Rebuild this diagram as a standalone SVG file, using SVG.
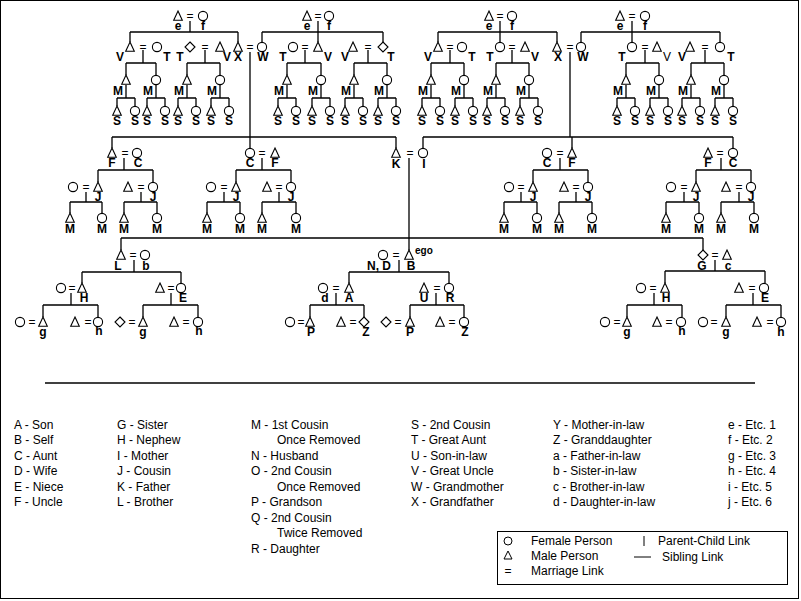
<svg xmlns="http://www.w3.org/2000/svg" xmlns:xlink="http://www.w3.org/1999/xlink" width="801" height="601" viewBox="0 0 801 601">
<style>
.l{stroke:#000;stroke-width:1.3;fill:none}
.s{fill:#fff;stroke:#000;stroke-width:1.1}
text{font-family:"Liberation Sans",Arial,sans-serif;fill:#000}
.b{font-weight:bold;font-size:12px;text-anchor:middle}
.q{font-size:12px;text-anchor:middle}
.g{font-size:12px}
</style>
<defs>
<path id="t" class="s" d="M0,-5L4.3,4.2H-4.3Z"/>
<circle id="c" class="s" r="4.6"/>
<path id="d" class="s" d="M0,-5L5,0L0,5L-5,0Z"/>
</defs>
<rect x="0.5" y="0.5" width="798" height="598" fill="#fff" stroke="#000"/>

<g id="connectors" class="l">
<path d="M190,21V32M130,32H238M130,32V42M238,32V42"/>
<path d="M318,21V42M262,32H383M262,32V42M383,32V42"/>
<path d="M500,21V42M438,32H557M438,32V42M557,32V42"/>
<path d="M632,21V42M581,32H720M581,32V42M720,32V42"/>
<path d="M143,50V63M126,63H156M126,63V75M156,63V75"/>
<path d="M205,50V63M187,63H220M187,63V75M220,63V75"/>
<path d="M305,50V63M287,63H321M287,63V75M321,63V75"/>
<path d="M368,50V63M354,63H387M354,63V75M387,63V75"/>
<path d="M450,50V63M431,63H464M431,63V75M464,63V75"/>
<path d="M512,50V63M496,63H529M496,63V75M529,63V75"/>
<path d="M645,50V63M626,63H659M626,63V75M659,63V75"/>
<path d="M705,50V63M691,63H724M691,63V75M724,63V75"/>
<path d="M126,85V98M117,98H135M117,98V106M135,98V106"/>
<path d="M156,85V98M147,98H165M147,98V106M165,98V106"/>
<path d="M187,85V98M178,98H196M178,98V106M196,98V106"/>
<path d="M220,85V98M211,98H229M211,98V106M229,98V106"/>
<path d="M287,85V98M278,98H296M278,98V106M296,98V106"/>
<path d="M321,85V98M312,98H330M312,98V106M330,98V106"/>
<path d="M354,85V98M345,98H363M345,98V106M363,98V106"/>
<path d="M387,85V98M378,98H396M378,98V106M396,98V106"/>
<path d="M431,85V98M422,98H440M422,98V106M440,98V106"/>
<path d="M464,85V98M455,98H473M455,98V106M473,98V106"/>
<path d="M496,85V98M487,98H505M487,98V106M505,98V106"/>
<path d="M529,85V98M520,98H538M520,98V106M538,98V106"/>
<path d="M626,85V98M617,98H635M617,98V106M635,98V106"/>
<path d="M659,85V98M650,98H668M650,98V106M668,98V106"/>
<path d="M691,85V98M682,98H700M682,98V106M700,98V106"/>
<path d="M724,85V98M715,98H733M715,98V106M733,98V106"/>
<path d="M250,52V137M570,52V137M112,137H396M112,137V148M250,137V148M396,137V148"/>
<path d="M423,137H733M423,137V148M572,137V148M733,137V148"/>
<path d="M124,158V170M98,170H153M98,170V182M153,170V182"/>
<path d="M86,192V202M70,202H102M70,202V213M102,202V213"/>
<path d="M141,192V202M124,202H157M124,202V213M157,202V213"/>
<path d="M262,158V170M236,170H291M236,170V182M291,170V182"/>
<path d="M224,192V202M207,202H240M207,202V213M240,202V213"/>
<path d="M279,192V202M262,202H296M262,202V213M296,202V213"/>
<path d="M560,158V170M533,170H588M533,170V182M588,170V182"/>
<path d="M521,192V202M504,202H537M504,202V213M537,202V213"/>
<path d="M576,192V202M559,202H592M559,202V213M592,202V213"/>
<path d="M721,158V170M696,170H751M696,170V182M751,170V182"/>
<path d="M684,192V202M666,202H699M666,202V213M699,202V213"/>
<path d="M739,192V202M721,202H754M721,202V213M754,202V213"/>
<path d="M409,158V250M121,238H703M121,238V250M703,238V250"/>
<path d="M134,260V272M82,272H181M82,272V283M181,272V283"/>
<path d="M71,293V305M43,305H98M43,305V317M98,305V317"/>
<path d="M171,293V305M143,305H198M143,305V317M198,305V317"/>
<path d="M399,260V272M349,272H449M349,272V283M449,272V283"/>
<path d="M336,293V305M310,305H364M310,305V317M364,305V317"/>
<path d="M436,293V305M410,305H464M410,305V317M464,305V317"/>
<path d="M715,260V271M665,271H765M665,271V283M765,271V283"/>
<path d="M654,293V305M627,305H682M627,305V317M682,305V317"/>
<path d="M753,293V305M726,305H781M726,305V317M781,305V317"/>
<path d="M45,383H755"/>
</g>

<g id="top">
<use href="#t" x="178" y="16"/><text class="q" x="190" y="20">=</text><use href="#c" x="203" y="16"/><text class="b" x="178" y="30">e</text><text class="b" x="203" y="30">f</text>
<use href="#t" x="307" y="16"/><text class="q" x="318" y="20">=</text><use href="#c" x="329" y="16"/><text class="b" x="307" y="30">e</text><text class="b" x="329" y="30">f</text>
<use href="#t" x="489" y="16"/><text class="q" x="500" y="20">=</text><use href="#c" x="512" y="16"/><text class="b" x="489" y="30">e</text><text class="b" x="512" y="30">f</text>
<use href="#t" x="620" y="16"/><text class="q" x="632" y="20">=</text><use href="#c" x="645" y="16"/><text class="b" x="620" y="30">e</text><text class="b" x="645" y="30">f</text>
</g>

<g id="level2">
<use href="#t" x="130" y="47"/><text class="q" x="143" y="51">=</text><use href="#c" x="157" y="47"/><text class="b" x="120" y="61">V</text><text class="b" x="167" y="61">T</text>
<use href="#d" x="190" y="47"/><text class="q" x="205" y="51">=</text><use href="#t" x="220" y="47"/><text class="b" x="180" y="61">T</text><text class="b" x="227" y="61">V</text>
<use href="#t" x="238" y="47"/><text class="q" x="250" y="51">=</text><use href="#c" x="262" y="47"/><text class="b" x="238" y="61">X</text><text class="b" x="263" y="61">W</text>
<use href="#c" x="293" y="47"/><text class="q" x="305" y="51">=</text><use href="#t" x="318" y="47"/><text class="b" x="283" y="61">T</text><text class="b" x="328" y="61">V</text>
<use href="#t" x="353" y="47"/><text class="q" x="368" y="51">=</text><use href="#d" x="383" y="47"/><text class="b" x="345" y="61">V</text><text class="b" x="391" y="61">T</text>
<use href="#t" x="438" y="47"/><text class="q" x="450" y="51">=</text><use href="#c" x="462" y="47"/><text class="b" x="428" y="61">V</text><text class="b" x="472" y="61">T</text>
<use href="#c" x="500" y="47"/><text class="q" x="512" y="51">=</text><use href="#t" x="525" y="47"/><text class="b" x="490" y="61">T</text><text class="b" x="535" y="61">V</text>
<use href="#t" x="557" y="47"/><text class="q" x="570" y="51">=</text><use href="#c" x="581" y="47"/><text class="b" x="558" y="61">X</text><text class="b" x="583" y="61">W</text>
<use href="#c" x="632" y="47"/><text class="q" x="645" y="51">=</text><use href="#t" x="657" y="47"/><text class="b" x="622" y="61">T</text><text class="q" x="667" y="61">V</text>
<use href="#t" x="690" y="47"/><text class="q" x="705" y="51">=</text><use href="#c" x="720" y="47"/><text class="b" x="682" y="61">V</text><text class="b" x="731" y="61">T</text>
</g>

<g id="cousins-top">
<use href="#t" x="126" y="80"/><use href="#c" x="156" y="80"/><use href="#t" x="187" y="80"/><use href="#c" x="220" y="80"/>
<use href="#t" x="287" y="80"/><use href="#c" x="321" y="80"/><use href="#t" x="354" y="80"/><use href="#c" x="387" y="80"/>
<use href="#t" x="431" y="80"/><use href="#c" x="464" y="80"/><use href="#t" x="496" y="80"/><use href="#c" x="529" y="80"/>
<use href="#t" x="626" y="80"/><use href="#c" x="659" y="80"/><use href="#t" x="691" y="80"/><use href="#c" x="724" y="80"/>
<text class="b" x="118" y="95">M</text><text class="b" x="148" y="95">M</text><text class="b" x="179" y="95">M</text><text class="b" x="212" y="95">M</text>
<text class="b" x="279" y="95">M</text><text class="b" x="313" y="95">M</text><text class="b" x="346" y="95">M</text><text class="b" x="379" y="95">M</text>
<text class="b" x="423" y="95">M</text><text class="b" x="456" y="95">M</text><text class="b" x="488" y="95">M</text><text class="b" x="521" y="95">M</text>
<text class="b" x="618" y="95">M</text><text class="b" x="651" y="95">M</text><text class="b" x="683" y="95">M</text><text class="b" x="716" y="95">M</text>
</g>

<g id="second-cousins">
<use href="#t" x="117" y="111"/><use href="#c" x="135" y="111"/><use href="#t" x="147" y="111"/><use href="#c" x="165" y="111"/><use href="#t" x="178" y="111"/><use href="#c" x="196" y="111"/><use href="#t" x="211" y="111"/><use href="#c" x="229" y="111"/>
<use href="#t" x="278" y="111"/><use href="#c" x="296" y="111"/><use href="#t" x="312" y="111"/><use href="#c" x="330" y="111"/><use href="#t" x="345" y="111"/><use href="#c" x="363" y="111"/><use href="#t" x="378" y="111"/><use href="#c" x="396" y="111"/>
<use href="#t" x="422" y="111"/><use href="#c" x="440" y="111"/><use href="#t" x="455" y="111"/><use href="#c" x="473" y="111"/><use href="#t" x="487" y="111"/><use href="#c" x="505" y="111"/><use href="#t" x="520" y="111"/><use href="#c" x="538" y="111"/>
<use href="#t" x="617" y="111"/><use href="#c" x="635" y="111"/><use href="#t" x="650" y="111"/><use href="#c" x="668" y="111"/><use href="#t" x="682" y="111"/><use href="#c" x="700" y="111"/><use href="#t" x="715" y="111"/><use href="#c" x="733" y="111"/>
<text class="b" x="117" y="125">S</text><text class="b" x="135" y="125">S</text><text class="b" x="147" y="125">S</text><text class="b" x="165" y="125">S</text><text class="b" x="178" y="125">S</text><text class="b" x="196" y="125">S</text><text class="b" x="211" y="125">S</text><text class="b" x="229" y="125">S</text>
<text class="b" x="278" y="125">S</text><text class="b" x="296" y="125">S</text><text class="b" x="312" y="125">S</text><text class="b" x="330" y="125">S</text><text class="b" x="345" y="125">S</text><text class="b" x="363" y="125">S</text><text class="b" x="378" y="125">S</text><text class="b" x="396" y="125">S</text>
<text class="b" x="422" y="125">S</text><text class="b" x="440" y="125">S</text><text class="b" x="455" y="125">S</text><text class="b" x="473" y="125">S</text><text class="b" x="487" y="125">S</text><text class="b" x="505" y="125">S</text><text class="b" x="520" y="125">S</text><text class="b" x="538" y="125">S</text>
<text class="b" x="617" y="125">S</text><text class="b" x="635" y="125">S</text><text class="b" x="650" y="125">S</text><text class="b" x="668" y="125">S</text><text class="b" x="682" y="125">S</text><text class="b" x="700" y="125">S</text><text class="b" x="715" y="125">S</text><text class="b" x="733" y="125">S</text>
</g>

<g id="parents-generation">
<use href="#t" x="112" y="153"/><text class="q" x="125" y="157">=</text><use href="#c" x="137" y="153"/><text class="b" x="112" y="167">F</text><text class="b" x="138" y="167">C</text>
<use href="#c" x="250" y="153"/><text class="q" x="262" y="157">=</text><use href="#t" x="275" y="153"/><text class="b" x="250" y="167">C</text><text class="b" x="275" y="167">F</text>
<use href="#t" x="396" y="153"/><text class="q" x="410" y="157">=</text><use href="#c" x="423" y="153"/><text class="b" x="396" y="168">K</text><text class="b" x="424" y="168">I</text>
<use href="#c" x="547" y="153"/><text class="q" x="560" y="157">=</text><use href="#t" x="572" y="153"/><text class="b" x="547" y="167">C</text><text class="b" x="572" y="167">F</text>
<use href="#t" x="708" y="153"/><text class="q" x="720" y="157">=</text><use href="#c" x="733" y="153"/><text class="b" x="708" y="167">F</text><text class="b" x="733" y="167">C</text>
</g>

<g id="cousins">
<use href="#c" x="73" y="187"/><text class="q" x="86" y="191">=</text><use href="#t" x="98" y="187"/><text class="b" x="98" y="201">J</text>
<use href="#t" x="128" y="187"/><text class="q" x="141" y="191">=</text><use href="#c" x="153" y="187"/><text class="b" x="153" y="201">J</text>
<use href="#c" x="211" y="187"/><text class="q" x="224" y="191">=</text><use href="#t" x="236" y="187"/><text class="b" x="236" y="201">J</text>
<use href="#t" x="267" y="187"/><text class="q" x="279" y="191">=</text><use href="#c" x="291" y="187"/><text class="b" x="291" y="201">J</text>
<use href="#c" x="509" y="187"/><text class="q" x="521" y="191">=</text><use href="#t" x="533" y="187"/><text class="b" x="533" y="201">J</text>
<use href="#t" x="564" y="187"/><text class="q" x="576" y="191">=</text><use href="#c" x="588" y="187"/><text class="b" x="588" y="201">J</text>
<use href="#c" x="671" y="187"/><text class="q" x="684" y="191">=</text><use href="#t" x="696" y="187"/><text class="b" x="696" y="201">J</text>
<use href="#t" x="726" y="187"/><text class="q" x="739" y="191">=</text><use href="#c" x="751" y="187"/><text class="b" x="751" y="201">J</text>
</g>

<g id="cousins-removed">
<use href="#t" x="70" y="218"/><use href="#c" x="102" y="218"/><use href="#t" x="124" y="218"/><use href="#c" x="157" y="218"/>
<use href="#t" x="207" y="218"/><use href="#c" x="240" y="218"/><use href="#t" x="262" y="218"/><use href="#c" x="296" y="218"/>
<use href="#t" x="504" y="218"/><use href="#c" x="537" y="218"/><use href="#t" x="559" y="218"/><use href="#c" x="592" y="218"/>
<use href="#t" x="666" y="218"/><use href="#c" x="699" y="218"/><use href="#t" x="721" y="218"/><use href="#c" x="754" y="218"/>
<text class="b" x="70" y="233">M</text><text class="b" x="102" y="233">M</text><text class="b" x="124" y="233">M</text><text class="b" x="157" y="233">M</text>
<text class="b" x="207" y="233">M</text><text class="b" x="240" y="233">M</text><text class="b" x="262" y="233">M</text><text class="b" x="296" y="233">M</text>
<text class="b" x="504" y="233">M</text><text class="b" x="537" y="233">M</text><text class="b" x="559" y="233">M</text><text class="b" x="592" y="233">M</text>
<text class="b" x="666" y="233">M</text><text class="b" x="699" y="233">M</text><text class="b" x="721" y="233">M</text><text class="b" x="754" y="233">M</text>
</g>

<g id="brother">
<use href="#t" x="121" y="255"/><text class="q" x="133" y="259">=</text><use href="#c" x="145" y="255"/><text class="b" x="118" y="270">L</text><text class="b" x="146" y="270">b</text>
<use href="#c" x="61" y="288"/><text class="q" x="72" y="292">=</text><use href="#t" x="82" y="288"/><text class="b" x="84" y="302">H</text>
<use href="#t" x="160" y="288"/><text class="q" x="171" y="292">=</text><use href="#c" x="181" y="288"/><text class="b" x="183" y="302">E</text>
<use href="#c" x="20" y="322"/><text class="q" x="32" y="326">=</text><use href="#t" x="43" y="322"/><text class="b" x="43" y="336">g</text>
<use href="#t" x="75" y="322"/><text class="q" x="88" y="326">=</text><use href="#c" x="98" y="322"/><text class="b" x="99" y="335">h</text>
<use href="#d" x="120" y="322"/><text class="q" x="132" y="326">=</text><use href="#t" x="143" y="322"/><text class="b" x="143" y="336">g</text>
<use href="#t" x="174" y="322"/><text class="q" x="186" y="326">=</text><use href="#c" x="198" y="322"/><text class="b" x="199" y="335">h</text>
</g>

<g id="ego">
<use href="#c" x="383" y="255"/><text class="q" x="396" y="259">=</text><use href="#t" x="409" y="255"/><text x="415" y="254" style="font-size:10px;font-weight:bold">ego</text>
<text class="b" x="379" y="270">N, D</text><text class="b" x="411" y="270">B</text>
<use href="#c" x="323" y="288"/><text class="q" x="336" y="292">=</text><use href="#t" x="349" y="288"/><text class="b" x="325" y="302">d</text><text class="b" x="349" y="302">A</text>
<use href="#t" x="424" y="288"/><text class="q" x="437" y="292">=</text><use href="#c" x="449" y="288"/><text class="b" x="424" y="302">U</text><text class="b" x="450" y="302">R</text>
<use href="#c" x="290" y="322"/><text class="q" x="301" y="326">=</text><use href="#t" x="310" y="322"/><text class="b" x="311" y="336">P</text>
<use href="#t" x="341" y="322"/><text class="q" x="353" y="326">=</text><use href="#d" x="364" y="322"/><text class="b" x="366" y="336">Z</text>
<use href="#d" x="386" y="322"/><text class="q" x="398" y="326">=</text><use href="#t" x="410" y="322"/><text class="b" x="410" y="336">P</text>
<use href="#t" x="440" y="322"/><text class="q" x="452" y="326">=</text><use href="#c" x="464" y="322"/><text class="b" x="465" y="336">Z</text>
</g>

<g id="sister">
<use href="#d" x="703" y="255"/><text class="q" x="715" y="259">=</text><use href="#t" x="727" y="255"/><text class="b" x="702" y="270">G</text><text class="b" x="728" y="270">c</text>
<use href="#c" x="641" y="288"/><text class="q" x="653" y="292">=</text><use href="#t" x="665" y="288"/><text class="b" x="666" y="302">H</text>
<use href="#t" x="739" y="288"/><text class="q" x="752" y="292">=</text><use href="#c" x="764" y="288"/><text class="b" x="765" y="302">E</text>
<use href="#c" x="605" y="322"/><text class="q" x="617" y="326">=</text><use href="#t" x="627" y="322"/><text class="b" x="627" y="336">g</text>
<use href="#t" x="657" y="322"/><text class="q" x="669" y="326">=</text><use href="#c" x="681" y="322"/><text class="b" x="682" y="335">h</text>
<use href="#c" x="703" y="322"/><text class="q" x="714" y="326">=</text><use href="#t" x="726" y="322"/><text class="b" x="726" y="336">g</text>
<use href="#t" x="757" y="322"/><text class="q" x="770" y="326">=</text><use href="#c" x="781" y="322"/><text class="b" x="781" y="336">h</text>
</g>

<g id="key" class="g">
<text x="14" y="429">A - Son</text><text x="14" y="444">B - Self</text><text x="14" y="460">C - Aunt</text><text x="14" y="475">D - Wife</text><text x="14" y="491">E - Niece</text><text x="14" y="506">F - Uncle</text>
<text x="117" y="429">G - Sister</text><text x="117" y="444">H - Nephew</text><text x="117" y="460">I - Mother</text><text x="117" y="475">J - Cousin</text><text x="117" y="491">K - Father</text><text x="117" y="506">L - Brother</text>
<text x="251" y="429">M - 1st Cousin</text><text x="277" y="444">Once Removed</text><text x="251" y="460">N - Husband</text><text x="251" y="475">O - 2nd Cousin</text><text x="277" y="491">Once Removed</text><text x="251" y="506">P - Grandson</text><text x="251" y="522">Q - 2nd Cousin</text><text x="277" y="537">Twice Removed</text><text x="251" y="553">R - Daughter</text>
<text x="411" y="429">S - 2nd Cousin</text><text x="411" y="444">T - Great Aunt</text><text x="411" y="460">U - Son-in-law</text><text x="411" y="475">V - Great Uncle</text><text x="411" y="491">W - Grandmother</text><text x="411" y="506">X - Grandfather</text>
<text x="553" y="429">Y - Mother-in-law</text><text x="553" y="444">Z - Granddaughter</text><text x="553" y="460">a - Father-in-law</text><text x="553" y="475">b - Sister-in-law</text><text x="553" y="491">c - Brother-in-law</text><text x="553" y="506">d - Daughter-in-law</text>
<text x="728" y="429">e - Etc. 1</text><text x="728" y="444">f - Etc. 2</text><text x="728" y="460">g - Etc. 3</text><text x="728" y="475">h - Etc. 4</text><text x="728" y="491">i - Etc. 5</text><text x="728" y="506">j - Etc. 6</text>
</g>

<g id="legend" class="g">
<rect x="497.5" y="531.5" width="290" height="53" fill="none" stroke="#000"/>
<circle cx="508" cy="541" r="4" fill="none" stroke="#000"/>
<path d="M508,551L512,559H504Z" fill="none" stroke="#000"/>
<text x="508" y="575" text-anchor="middle">=</text>
<text x="531" y="545">Female Person</text><text x="531" y="560">Male Person</text><text x="531" y="575">Marriage Link</text>
<path d="M644,536V546M634,557H651" stroke="#000"/>
<text x="658" y="545">Parent-Child Link</text><text x="662" y="561">Sibling Link</text>
</g>
</svg>
